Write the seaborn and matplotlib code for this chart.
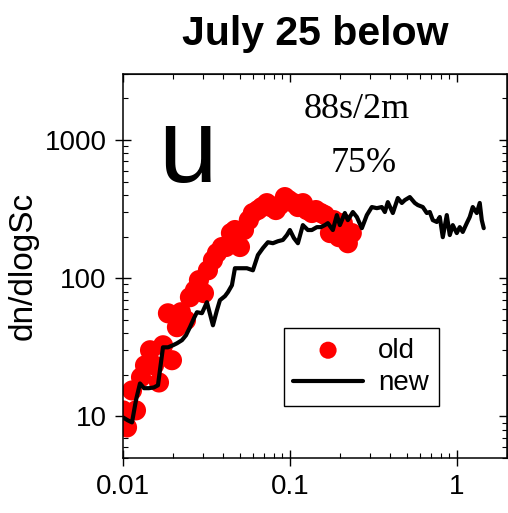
import matplotlib
matplotlib.use("Agg")
import matplotlib.pyplot as plt
import seaborn as sns
import pandas as pd

sns.set_style("ticks")
plt.rcParams["font.family"] = ["Liberation Sans", "DejaVu Sans"]
plt.rcParams["text.color"] = "black"
plt.rcParams["axes.labelcolor"] = "black"
plt.rcParams["xtick.color"] = "black"
plt.rcParams["ytick.color"] = "black"

# size parameter Sc (x) and dn/dlogSc (y)
old_sc = [0.0100, 0.01057, 0.01132, 0.01196, 0.01282, 0.01355, 0.01452, 0.01535,
          0.01643, 0.01738, 0.01859, 0.01965, 0.02105, 0.02225, 0.02384, 0.02518,
          0.02698, 0.02851, 0.03055, 0.03228, 0.03459, 0.03656, 0.03917, 0.04140,
          0.04434, 0.04688, 0.05023, 0.05309, 0.05675, 0.05998, 0.06427, 0.06792,
          0.07278, 0.07691, 0.08241, 0.08710, 0.09333, 0.09863, 0.1057, 0.1117,
          0.1197, 0.1265, 0.1355, 0.1432, 0.1534, 0.1621, 0.1738, 0.1834,
          0.1965, 0.2077, 0.2225, 0.2350]
old_dn = [11.05, 8.32, 15.4, 11.05, 19.2, 23.4, 30.1, 23.4,
          17.6, 32.7, 55.7, 25.5, 44.2, 56.7, 49.6, 72.8,
          81.8, 96.8, 77.9, 114, 135, 152, 168, 168,
          212, 223, 168, 223, 263, 296, 311, 327,
          349, 327, 311, 338, 386, 367, 349, 327,
          349, 311, 296, 311, 296, 286, 212, 263,
          198, 250, 179, 212]

new_sc = [0.01000, 0.01071, 0.01132, 0.01196, 0.01264, 0.01336, 0.01431, 0.01533,
          0.01620, 0.01736, 0.01860, 0.01993, 0.02106, 0.02256, 0.02384, 0.02519,
          0.02662, 0.02774, 0.02972, 0.03184, 0.03459, 0.03655, 0.03809, 0.04081,
          0.04253, 0.04495, 0.04685, 0.05089, 0.05527, 0.06003, 0.06432, 0.06892,
          0.07385, 0.07911, 0.08476, 0.09081, 0.09594, 0.1000, 0.1057, 0.1117,
          0.1196, 0.1282, 0.1354, 0.1451, 0.1533, 0.1620, 0.1689, 0.1809,
          0.1912, 0.1993, 0.2135, 0.2225, 0.2384, 0.2519, 0.2699, 0.2892,
          0.3097, 0.3319, 0.3556, 0.3707, 0.3863, 0.4139, 0.4435, 0.4686,
          0.4883, 0.5232, 0.5605, 0.5842, 0.6259, 0.6614, 0.6893, 0.7184,
          0.7591, 0.7912, 0.8246, 0.8713, 0.9081, 0.9463, 1.000, 1.042,
          1.086, 1.148, 1.196, 1.247, 1.318, 1.373, 1.412, 1.451]
new_dn = [9.83, 9.35, 9.05, 13.1, 17.3, 16.0, 16.0, 16.2,
          16.8, 31.6, 31.6, 32.7, 33.8, 35.6, 38.6, 44.2,
          51.3, 56.7, 55.8, 67.0, 45.6, 58.6, 69.3, 74.1,
          79.2, 88.9, 118, 118, 118, 114, 147, 165,
          182, 179, 185, 189, 205, 223, 195, 179,
          242, 223, 223, 234, 234, 242, 250, 223,
          286, 242, 296, 263, 301, 277, 230, 286,
          327, 321, 327, 301, 355, 296, 380, 350,
          367, 386, 350, 338, 327, 296, 301, 263,
          255, 277, 198, 286, 205, 242, 212, 234,
          216, 250, 277, 327, 296, 350, 263, 230]

x_ticks = [0.01, 0.1, 1]
x_tick_labels = ["0.01", "0.1", "1"]
y_ticks = [10, 100, 1000]
y_tick_labels = ["10", "100", "1000"]

old_df = pd.DataFrame({"Sc": old_sc, "dn": old_dn})
new_df = pd.DataFrame({"Sc": new_sc, "dn": new_dn})

fig = plt.figure(figsize=(5.08, 5.13), dpi=100)
ax = fig.add_axes([123 / 508, 55 / 513, 384 / 508, 384 / 513])

sns.scatterplot(data=old_df, x="Sc", y="dn", ax=ax, color="#ff0000", s=210,
                edgecolor="none", linewidth=0, label="old", zorder=2)
sns.lineplot(data=new_df, x="Sc", y="dn", ax=ax, color="black", linewidth=3.0,
             label="new", zorder=3, sort=False)

ax.set_xscale("log")
ax.set_yscale("log")
ax.set_xlim(0.01, 2.0)
ax.set_ylim(5, 3000)
ax.set_xticks(x_ticks)
ax.set_xticklabels(x_tick_labels)
ax.set_yticks(y_ticks)
ax.set_yticklabels(y_tick_labels)

for sp in ax.spines.values():
    sp.set_visible(True)
    sp.set_linewidth(1.1)
    sp.set_color("black")

ax.tick_params(axis="both", which="major", direction="inout", length=11.5,
               width=1.0, labelsize=20, pad=6, colors="black")
ax.tick_params(axis="both", which="minor", direction="in", length=3.5, width=0.8)

# top and right edges carry inward-only ticks
top = ax.secondary_xaxis("top")
top.tick_params(which="major", direction="in", length=5.8, width=1.0, labeltop=False)
top.tick_params(which="minor", direction="in", length=3.5, width=0.8)
top.set_xticks(x_ticks)
top.set_xticklabels([])
right = ax.secondary_yaxis("right")
right.tick_params(which="major", direction="in", length=5.8, width=1.0, labelright=False)
right.tick_params(which="minor", direction="in", length=3.5, width=0.8)
right.set_yticks(y_ticks)
right.set_yticklabels([])

ax.set_xlabel("")
ax.set_ylabel("dn/dlogSc", fontsize=24, labelpad=4)
ax.set_title("July 25 below", fontsize=29.5, fontweight="bold", pad=21)

ax.text(0.167, 0.719, "u", transform=ax.transAxes, fontsize=76,
        ha="center", va="baseline")
ax.text(0.609, 0.885, "88s/2m", transform=ax.transAxes, fontsize=26,
        family="Liberation Serif", ha="center", va="baseline")
ax.text(0.627, 0.745, "75%", transform=ax.transAxes, fontsize=26,
        family="Liberation Serif", ha="center", va="baseline")

leg = ax.legend(loc="center", bbox_to_anchor=(0.62, 0.237), fontsize=20,
                frameon=True, fancybox=False, framealpha=1, edgecolor="black",
                borderpad=0.35, handlelength=2.5, handletextpad=0.55,
                labelspacing=0.25, markerscale=0.85)
leg.get_frame().set_linewidth(1.0)

fig.savefig("out.png", dpi=100)
